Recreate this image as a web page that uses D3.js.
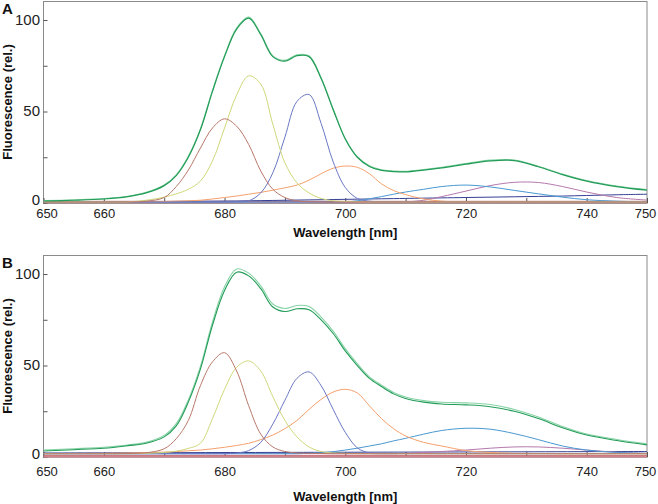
<!DOCTYPE html>
<html>
<head>
<meta charset="utf-8">
<script src="https://cdn.jsdelivr.net/npm/d3@7"></script>
<style>
  html, body { margin: 0; padding: 0; background: #fff; }
  svg { display: block; font-family: "Liberation Sans", Arial, Helvetica, sans-serif; }
</style>
</head>
<body>
<svg id="chart" width="658" height="504"></svg>
<script>
// ---------- DATA ----------
const wavelengths = [650, 655, 660, 664, 667, 670, 672, 674, 676, 678, 680, 682, 684, 686, 688, 690, 692, 694, 696, 698, 700, 702, 704, 706, 708, 710, 713, 716, 720, 724, 728, 732, 736, 740, 745, 750];
const xTickValues = [650, 660, 670, 680, 690, 700, 710, 720, 730, 740, 750];
const xTickLabels = [650, 660, 680, 700, 720, 740, 750];
const yTickValues = [0, 25, 50, 75, 100];
const yTickLabels = [0, 50, 100];
const panelLetters = ["A", "B"];
const xTitle = "Wavelength [nm]";
const yTitle = "Fluorescence (rel.)";

// Panel A
const aTotalFit      = [1.1, 1.5, 2.2, 3.5, 5.5, 9.5, 15, 25, 40, 61, 80, 95, 101, 92, 80, 77.5, 80.5, 80, 68, 51, 35, 25, 20, 17.8, 17.2, 17, 18, 19.2, 21.2, 23, 23.2, 19.8, 15.5, 12, 9, 7];
const aTotalMeasured = [1.3, 1.7, 2.4, 3.7, 5.8, 9.8, 15.4, 25.5, 40.5, 61.5, 80.6, 95.6, 101.6, 92.5, 80.4, 78, 81, 80.5, 68.4, 51.4, 35.3, 25.3, 20.3, 18.1, 17.5, 17.3, 18.3, 19.5, 21.5, 23.4, 23.5, 20.1, 15.8, 12.3, 9.3, 7.3];
const aComp680 = [0.5, 0.5, 0.5, 0.6, 1, 3, 9, 18, 30, 41, 46, 42, 32, 17.5, 7.5, 3, 1.2, 0.7, 0.5, 0.5, 0.5, 0.5, 0.5, 0.5, 0.5, 0.5, 0.5, 0.5, 0.5, 0.5, 0.5, 0.5, 0.5, 0.5, 0.5, 0.5];
const aComp685 = [0.5, 0.5, 0.5, 0.6, 1.5, 3.2, 5, 7.5, 12, 23, 41, 59, 69.5, 65, 43, 22, 11, 5.5, 2.5, 1.2, 0.8, 0.6, 0.5, 0.5, 0.5, 0.5, 0.5, 0.5, 0.5, 0.5, 0.5, 0.5, 0.5, 0.5, 0.5, 0.5];
const aComp693 = [0.5, 0.5, 0.5, 0.5, 0.5, 0.5, 0.5, 0.5, 0.5, 0.5, 0.5, 0.7, 1.2, 5.5, 16.5, 36, 55.5, 59.3, 43.5, 22.5, 8.5, 2.5, 1, 0.6, 0.5, 0.5, 0.5, 0.5, 0.5, 0.5, 0.5, 0.5, 0.5, 0.5, 0.5, 0.5];
const aComp700 = [0.5, 0.5, 0.5, 0.5, 0.6, 0.8, 1, 1.2, 1.5, 2.2, 3, 3.8, 4.8, 5.8, 7, 8.3, 9.8, 12.5, 16, 19, 20.2, 19.5, 16, 10.5, 6.8, 4.6, 2.2, 1, 0.6, 0.5, 0.5, 0.5, 0.5, 0.5, 0.5, 0.5];
const aComp720 = [0.5, 0.5, 0.5, 0.5, 0.5, 0.5, 0.5, 0.5, 0.5, 0.5, 0.5, 0.5, 0.5, 0.5, 0.5, 0.5, 0.5, 0.5, 0.5, 0.5, 0.6, 1.2, 2.3, 3.5, 4.8, 6, 7.5, 9, 9.8, 8.8, 6.9, 5, 3.2, 1.8, 1, 0.6];
const aComp730 = [0.5, 0.5, 0.5, 0.5, 0.5, 0.5, 0.5, 0.5, 0.5, 0.5, 0.5, 0.5, 0.5, 0.5, 0.5, 0.5, 0.5, 0.5, 0.5, 0.5, 0.5, 0.5, 0.5, 0.5, 0.5, 0.6, 1.5, 3.5, 6.5, 9.5, 11.3, 11.2, 9, 6, 3, 1.6];
const aCompBroad = [0.3, 0.4, 0.5, 0.6, 0.7, 0.8, 0.85, 0.9, 0.95, 1, 1.05, 1.1, 1.2, 1.3, 1.4, 1.5, 1.6, 1.7, 1.8, 1.9, 2, 2.1, 2.2, 2.3, 2.4, 2.5, 2.65, 2.8, 3, 3.2, 3.4, 3.6, 3.8, 4.1, 4.5, 4.8];
const aBaseX = [650, 750];
const aBasePink = [0.4, 0.4];
const aBaseRed = [0.9, 0.9];

// Panel B
const bTotalFit      = [3.3, 4, 4.8, 6.2, 7.5, 11, 17, 30, 48, 72, 91, 101, 99, 92, 82, 79.5, 81, 80.5, 75, 67.5, 58, 50, 43, 38.5, 34.5, 32, 30, 29, 28.5, 27.5, 25, 21, 16, 12, 9, 6.6];
const bTotalMeasured = [3.8, 4.5, 5.3, 6.6, 8, 11.8, 18.2, 31.2, 49.5, 73.8, 93, 102.8, 100.5, 93.5, 83.6, 81.2, 82.8, 82.3, 76.5, 68.8, 59.2, 51, 43.8, 39.3, 35.3, 32.8, 30.8, 29.9, 29.6, 28.7, 26, 21.9, 16.7, 12.6, 9.6, 7.2];
const bComp680 = [1.8, 1.8, 1.8, 1.9, 2.3, 4.5, 10, 20, 39, 52, 57, 47, 28, 12.5, 5.5, 3, 2.2, 2, 1.9, 1.8, 1.8, 1.8, 1.8, 1.8, 1.8, 1.8, 1.8, 1.8, 1.8, 1.8, 1.8, 1.8, 1.8, 1.8, 1.8, 1.8];
const bComp685 = [1.8, 1.8, 1.8, 1.8, 2, 2.5, 3.2, 4.7, 7.5, 21, 37, 49, 52.5, 47, 33, 20, 11, 5.5, 3, 2.2, 2, 1.8, 1.8, 1.8, 1.8, 1.8, 1.8, 1.8, 1.8, 1.8, 1.8, 1.8, 1.8, 1.8, 1.8, 1.8];
const bComp693 = [1.8, 1.8, 1.8, 1.8, 1.8, 1.8, 1.8, 1.8, 1.8, 1.8, 1.8, 2.2, 3.5, 8, 18, 31, 43, 46.5, 39, 26, 13.5, 5, 2.2, 1.8, 1.8, 1.8, 1.8, 1.8, 1.8, 1.8, 1.8, 1.8, 1.8, 1.8, 1.8, 1.8];
const bComp700 = [1.8, 1.9, 2, 2.2, 2.4, 2.7, 3, 3.4, 3.8, 4.5, 5.3, 6.3, 7.5, 9.5, 12, 15.5, 20, 26, 31.5, 35.5, 37, 35, 28, 21, 15.5, 11.5, 8, 6, 3.5, 2.5, 2, 1.9, 1.8, 1.8, 1.8, 1.8];
const bComp720 = [1.8, 1.8, 1.8, 1.8, 1.8, 1.8, 1.8, 1.8, 1.8, 1.8, 1.8, 1.8, 1.8, 1.8, 1.8, 1.8, 1.8, 2, 2.3, 2.9, 3.8, 4.8, 6, 7.2, 8.8, 10.2, 12.5, 14.5, 15.7, 15.2, 12.8, 9.5, 6, 3.8, 2.5, 2];
const bComp730 = [1.8, 1.8, 1.8, 1.8, 1.8, 1.8, 1.8, 1.8, 1.8, 1.8, 1.8, 1.8, 1.8, 1.8, 1.8, 1.8, 1.8, 1.8, 1.8, 1.8, 1.8, 1.8, 1.8, 1.8, 1.8, 2, 2.5, 3, 3.8, 4.8, 5.5, 5.5, 4.8, 3.8, 2.6, 2];
const bBaseX = [650, 700, 750];
const bCompBroad = [2.2, 2.6, 3];
const bBasePink = [0.3, 0.3, 0.3];
const bBaseRed = [0.6, 0.6, 0.6];

// ---------- COLOURS ----------
const colFitGreen = "#239c58";
const colMeasGreen = "#86d3a6";
const colors = {
  c680: "#b8786a",
  c685: "#cfd77a",
  c693: "#6a78c2",
  c700: "#f4a06c",
  c720: "#4a98d0",
  c730: "#b478ac",
  broad: "#343f94",
  pink: "#e8a4b4",
  red: "#a83434"
};

// ---------- LAYOUT ----------
const svg = d3.select("#chart");
const xLeft = 43.5, xRight = 647;
const x = d3.scaleLinear().domain([650, 750]).range([xLeft, xRight]);

const panels = [
  {
    letter: panelLetters[0], top: 1, bottom: 203, letterY: 13.5, tickPad: 6, titleY: 237,
    series: [
      { xs: aBaseX, ys: aBasePink, color: colors.pink, w: 2.2 },
      { xs: aBaseX, ys: aBaseRed, color: colors.red, w: 0.8 },
      { xs: wavelengths, ys: aCompBroad, color: colors.broad, w: 1 },
      { xs: wavelengths, ys: aComp730, color: colors.c730, w: 1 },
      { xs: wavelengths, ys: aComp720, color: colors.c720, w: 1 },
      { xs: wavelengths, ys: aComp700, color: colors.c700, w: 1 },
      { xs: wavelengths, ys: aComp693, color: colors.c693, w: 1 },
      { xs: wavelengths, ys: aComp685, color: colors.c685, w: 1 },
      { xs: wavelengths, ys: aComp680, color: colors.c680, w: 1 },
      { xs: wavelengths, ys: aTotalMeasured, color: colMeasGreen, w: 1.2 },
      { xs: wavelengths, ys: aTotalFit, color: colFitGreen, w: 1.2 }
    ]
  },
  {
    letter: panelLetters[1], top: 255, bottom: 457, letterY: 267.5, tickPad: 9.5, titleY: 501,
    series: [
      { xs: bBaseX, ys: bBasePink, color: colors.pink, w: 2.2 },
      { xs: bBaseX, ys: bBaseRed, color: colors.red, w: 0.8 },
      { xs: bBaseX, ys: bCompBroad, color: colors.broad, w: 1 },
      { xs: wavelengths, ys: bComp730, color: colors.c730, w: 1 },
      { xs: wavelengths, ys: bComp720, color: colors.c720, w: 1 },
      { xs: wavelengths, ys: bComp700, color: colors.c700, w: 1 },
      { xs: wavelengths, ys: bComp693, color: colors.c693, w: 1 },
      { xs: wavelengths, ys: bComp685, color: colors.c685, w: 1 },
      { xs: wavelengths, ys: bComp680, color: colors.c680, w: 1 },
      { xs: wavelengths, ys: bTotalMeasured, color: colMeasGreen, w: 1.1 },
      { xs: wavelengths, ys: bTotalFit, color: colFitGreen, w: 1.1 }
    ]
  }
];

panels.forEach((p, i) => {
  const y = d3.scaleLinear().domain([0, 110.4]).range([p.bottom, p.top]);
  const g = svg.append("g");

  const clipId = "clip" + i;
  svg.append("clipPath").attr("id", clipId)
    .append("rect").attr("x", xLeft).attr("y", p.top).attr("width", xRight - xLeft).attr("height", p.bottom - p.top + 1);

  // frame
  g.append("rect")
    .attr("x", xLeft).attr("y", p.top + 0.5)
    .attr("width", xRight - xLeft).attr("height", p.bottom - p.top)
    .attr("fill", "none").attr("stroke", "#8a8a8a").attr("stroke-width", 1);

  // axes
  const yAxis = d3.axisLeft(y).tickValues(yTickValues).tickSize(-4).tickPadding(3.5)
    .tickFormat(d => yTickLabels.includes(d) ? d : "");
  const ya = g.append("g").attr("transform", `translate(${xLeft},0)`).call(yAxis);
  ya.select(".domain").remove();
  ya.selectAll("line").attr("stroke", "#555");
  ya.selectAll("text").attr("font-size", 15).attr("fill", "#222")
    .attr("font-family", "Liberation Sans, Arial, sans-serif")
    .attr("dy", d => d === 0 ? "0.12em" : "0.28em");

  const xAxis = d3.axisBottom(x).tickValues(xTickValues).tickSize(-5).tickPadding(p.tickPad)
    .tickFormat(d => xTickLabels.includes(d) ? d : "");
  const xa = g.append("g").attr("transform", `translate(0,${p.bottom})`).call(xAxis);
  xa.select(".domain").remove();
  xa.selectAll("line").attr("stroke", "#555");
  xa.selectAll("text").attr("font-size", 13).attr("fill", "#222")
    .attr("font-family", "Liberation Sans, Arial, sans-serif")
    .attr("dx", d => d === 650 ? 3 : (d === 750 ? -2 : 0));

  // lines
  const lg = g.append("g").attr("clip-path", `url(#${clipId})`);
  p.series.forEach(s => {
    const pts = s.xs.map((xv, k) => [xv, s.ys[k]]);
    const line = d3.line().x(d => x(d[0])).y(d => y(d[1])).curve(d3.curveCatmullRom.alpha(0.5));
    lg.append("path").datum(pts).attr("d", line)
      .attr("fill", "none").attr("stroke", s.color).attr("stroke-width", s.w)
      .attr("stroke-linejoin", "round");
  });

  // titles
  g.append("text").attr("x", 2).attr("y", p.letterY)
    .attr("font-size", 15).attr("font-weight", "bold").attr("fill", "#111").text(p.letter);

  g.append("text")
    .attr("transform", `translate(7,${(p.top + p.bottom) / 2}) rotate(-90)`)
    .attr("text-anchor", "middle").attr("dominant-baseline", "central")
    .attr("font-size", 13).attr("font-weight", "bold").attr("fill", "#111").text(yTitle);

  g.append("text")
    .attr("x", (xLeft + xRight) / 2).attr("y", p.titleY)
    .attr("text-anchor", "middle")
    .attr("font-size", 13).attr("font-weight", "bold").attr("fill", "#111").text(xTitle);
});
</script>
</body>
</html>
